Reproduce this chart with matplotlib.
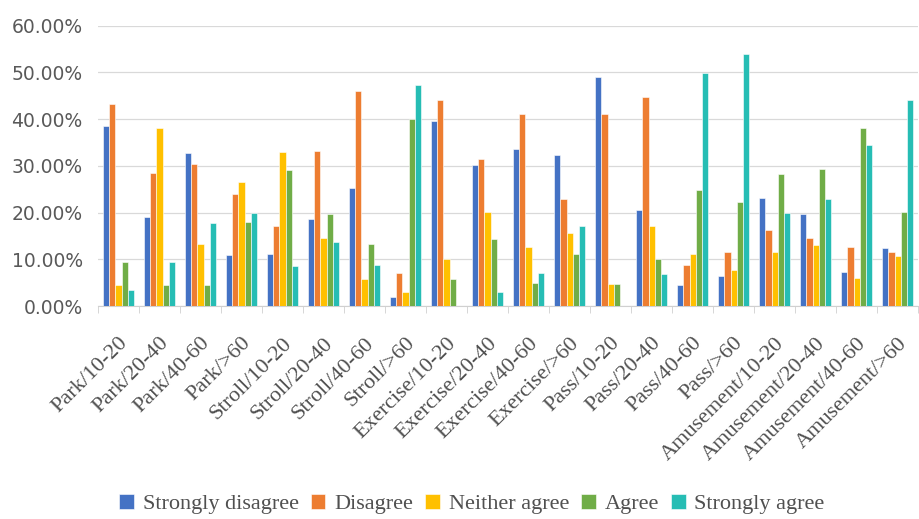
import numpy as np
import matplotlib.pyplot as plt
from matplotlib.ticker import FuncFormatter, FixedLocator

categories = [
    "Park/10-20", "Park/20-40", "Park/40-60", "Park/>60",
    "Stroll/10-20", "Stroll/20-40", "Stroll/40-60", "Stroll/>60",
    "Exercise/10-20", "Exercise/20-40", "Exercise/40-60", "Exercise/>60",
    "Pass/10-20", "Pass/20-40", "Pass/40-60", "Pass/>60",
    "Amusement/10-20", "Amusement/20-40", "Amusement/40-60", "Amusement/>60",
]

# percent values
strongly_disagree = [38.6, 19.0, 32.7, 10.9, 11.2, 18.7, 25.2, 2.0, 39.5, 30.2,
                     33.5, 32.3, 49.0, 20.5, 4.4, 6.5, 23.1, 19.6, 7.3, 12.4]
disagree = [43.3, 28.5, 30.5, 24.0, 17.2, 33.2, 46.1, 7.1, 44.0, 31.4,
            41.0, 22.8, 41.0, 44.8, 8.8, 11.5, 16.3, 14.6, 12.7, 11.5]
neither_agree = [4.4, 38.1, 13.3, 26.5, 33.0, 14.6, 5.8, 2.9, 10.1, 20.2,
                 12.6, 15.7, 4.7, 17.2, 11.2, 7.6, 11.5, 13.0, 6.1, 10.6]
agree = [9.5, 4.4, 4.4, 18.0, 29.1, 19.6, 13.3, 40.0, 5.8, 14.3,
         5.0, 11.2, 4.7, 10.1, 24.9, 22.3, 28.3, 29.3, 38.2, 20.2]
strongly_agree = [3.5, 9.5, 17.8, 19.8, 8.6, 13.6, 8.8, 47.2, 0.0, 2.9,
                  7.1, 17.2, 0.0, 6.8, 49.9, 54.0, 19.8, 22.8, 34.5, 44.2]

series = [
    ("Strongly disagree", strongly_disagree, "#4472C4"),
    ("Disagree", disagree, "#ED7D31"),
    ("Neither agree", neither_agree, "#FFC000"),
    ("Agree", agree, "#70AD47"),
    ("Strongly agree", strongly_agree, "#26BDB4"),
]

fig = plt.figure(figsize=(9.2, 5.19), dpi=100)
ax = fig.add_axes([0.1065, 0.4104, 0.8915, 0.5401])

x = np.arange(len(categories))
w = 0.15
for i, (name, vals, col) in enumerate(series):
    ax.bar(x + (i - 2) * w, np.array(vals) / 100, width=w, color=col,
           edgecolor="white", linewidth=0.4, label=name, zorder=3)

ax.set_xlim(-0.5, len(categories) - 0.5)
ax.set_ylim(0, 0.6)
ax.set_yticks(np.arange(0, 0.61, 0.1))
ax.yaxis.set_major_formatter(FuncFormatter(lambda v, p: f"{v * 100:.2f}%"))
ax.grid(axis="y", color="#d9d9d9", lw=0.9, zorder=0)
for s in ["top", "right", "left"]:
    ax.spines[s].set_visible(False)
ax.spines["bottom"].set_color("#d0d0d0")
ax.tick_params(axis="y", length=0, pad=11, labelsize=13.5, labelcolor="#595959")

ax.set_xticks(x)
ax.set_xticklabels(categories, rotation=45, ha="right", rotation_mode="anchor",
                   fontsize=16, family="Liberation Serif", color="#505050")
ax.tick_params(axis="x", which="major", length=0, pad=20)
ax.xaxis.set_minor_locator(FixedLocator(np.arange(-0.5, len(categories), 1)))
ax.tick_params(axis="x", which="minor", length=5, color="#d0d0d0")

leg = fig.legend(loc="center", bbox_to_anchor=(0.513, 0.029), ncol=5, frameon=False,
                 prop={"family": "Liberation Serif", "size": 16},
                 handlelength=0.65, handleheight=0.65, handletextpad=0.4,
                 columnspacing=0.55)
for t in leg.get_texts():
    t.set_color("#505050")

fig.savefig("out.png", dpi=100)
